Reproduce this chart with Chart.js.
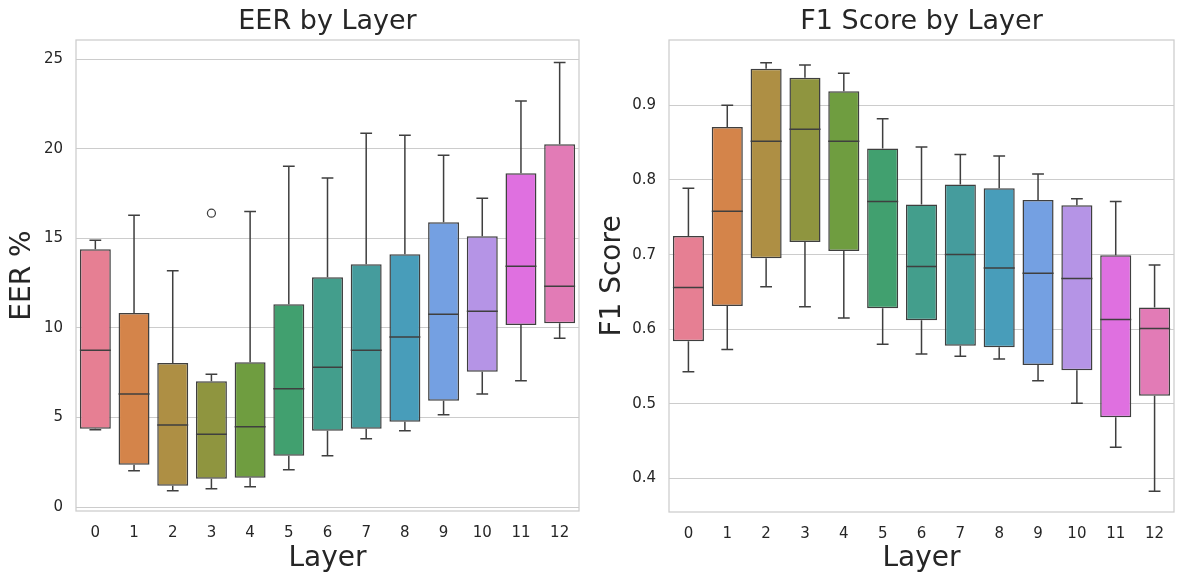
<!DOCTYPE html>
<html>
<head>
<meta charset="utf-8">
<script src="https://cdn.jsdelivr.net/npm/chart.js@4"></script>
<style>
  body { margin: 0; background: #fff; }
  #wrap { position: relative; width: 1183px; height: 584px; }
  #leftBox { position: absolute; left: 0; top: 0; }
  #rightBox { position: absolute; left: 590px; top: 0; }
</style>
</head>
<body>
<div id="wrap">
  <div id="leftBox"><canvas id="eerChart" width="590" height="584"></canvas></div>
  <div id="rightBox"><canvas id="f1Chart" width="593" height="584"></canvas></div>
</div>
<script>
// layers 0..12
var layers = ['0', '1', '2', '3', '4', '5', '6', '7', '8', '9', '10', '11', '12'];

// EER % box stats per layer
var eerLow  = [4.31, 2.03, 0.91, 1.02, 1.13, 2.08, 2.86, 3.81, 4.26, 5.15, 6.32, 7.05, 9.43];
var eerQ1   = [4.37, 2.36, 1.19, 1.58, 1.64, 2.86, 4.26, 4.37, 4.76, 5.93, 7.55, 10.17, 10.27];
var eerMed  = [8.76, 6.31, 4.58, 4.07, 4.48, 6.60, 7.81, 8.76, 9.49, 10.77, 10.94, 13.45, 12.33];
var eerQ3   = [14.40, 10.83, 8.04, 7.03, 8.09, 11.33, 12.83, 13.56, 14.12, 15.90, 15.12, 18.64, 20.26];
var eerHigh = [14.90, 16.29, 13.19, 7.42, 16.50, 19.03, 18.38, 20.87, 20.76, 19.64, 17.24, 22.67, 24.83];
var eerOutliers = [null, null, null, 16.41, null, null, null, null, null, null, null, null, null];
var eerTicks = [0, 5, 10, 15, 20, 25];

// F1 score box stats per layer
var f1Low  = [0.543, 0.573, 0.657, 0.630, 0.615, 0.580, 0.567, 0.564, 0.560, 0.531, 0.501, 0.442, 0.383];
var f1Q1   = [0.584, 0.631, 0.695, 0.717, 0.705, 0.628, 0.612, 0.578, 0.576, 0.552, 0.545, 0.482, 0.511];
var f1Med  = [0.656, 0.758, 0.852, 0.868, 0.852, 0.771, 0.684, 0.700, 0.682, 0.675, 0.668, 0.613, 0.601];
var f1Q3   = [0.725, 0.871, 0.949, 0.937, 0.919, 0.842, 0.767, 0.794, 0.789, 0.773, 0.766, 0.699, 0.629];
var f1High = [0.789, 0.900, 0.957, 0.954, 0.943, 0.882, 0.844, 0.834, 0.832, 0.808, 0.775, 0.771, 0.686];
var f1Ticks = [0.4, 0.5, 0.6, 0.7, 0.8, 0.9];

var palette = ['#e67f93', '#d4844a', '#ae8f44', '#8f953f', '#6f9d40', '#41a06f', '#439e8c',
               '#459c9d', '#489dba', '#74a0e2', '#b594e6', '#df70e0', '#e27bb6'];

var lineColor = '#3f3f3f';
var textColor = '#262626';
var gridColor = '#cccccc';
var fontFamily = '"DejaVu Sans", sans-serif';

Chart.defaults.font.family = fontFamily;
Chart.defaults.color = textColor;
Chart.defaults.animation = false;

// whiskers, caps and medians, drawn through the chart scales
var boxExtras = {
  id: 'boxExtras',
  afterDatasetsDraw: function (chart, args, opts) {
    var ctx = chart.ctx;
    var x = chart.scales.x, y = chart.scales.y;
    var meta = chart.getDatasetMeta(0);
    ctx.save();
    ctx.strokeStyle = lineColor;
    ctx.lineWidth = 1.5;
    for (var i = 0; i < opts.med.length; i++) {
      var cx = x.getPixelForValue(i);
      var w = meta.data[i].width;
      var cap = w * 0.19;
      var yLow = y.getPixelForValue(opts.low[i]);
      var yQ1 = y.getPixelForValue(opts.q1[i]);
      var yQ3 = y.getPixelForValue(opts.q3[i]);
      var yHigh = y.getPixelForValue(opts.high[i]);
      var yMed = y.getPixelForValue(opts.med[i]);
      ctx.beginPath();
      ctx.moveTo(cx, yQ3); ctx.lineTo(cx, yHigh);
      ctx.moveTo(cx - cap, yHigh); ctx.lineTo(cx + cap, yHigh);
      ctx.moveTo(cx, yQ1); ctx.lineTo(cx, yLow);
      ctx.moveTo(cx - cap, yLow); ctx.lineTo(cx + cap, yLow);
      ctx.moveTo(cx - w / 2, yMed); ctx.lineTo(cx + w / 2, yMed);
      ctx.stroke();
    }
    ctx.restore();
  }
};

// light frame around the plot area (all four spines)
var frame = {
  id: 'frame',
  afterDraw: function (chart) {
    var a = chart.chartArea, ctx = chart.ctx;
    ctx.save();
    ctx.strokeStyle = gridColor;
    ctx.lineWidth = 1.25;
    ctx.strokeRect(a.left, a.top, a.right - a.left, a.bottom - a.top);
    ctx.restore();
  }
};

function makeBoxChart(id, cfg) {
  var datasets = [{
    type: 'bar',
    data: layers.map(function (l, i) { return [cfg.q1[i], cfg.q3[i]]; }),
    backgroundColor: palette,
    borderColor: lineColor,
    borderWidth: 1.5,
    borderSkipped: false,
    barPercentage: 0.8,
    categoryPercentage: 1.0,
    order: 2
  }];
  if (cfg.outliers) {
    datasets.push({
      type: 'line',
      data: cfg.outliers,
      showLine: false,
      pointRadius: 4,
      pointBorderWidth: 1.25,
      pointBorderColor: lineColor,
      pointBackgroundColor: 'rgba(0,0,0,0)',
      order: 1
    });
  }
  return new Chart(document.getElementById(id), {
    type: 'bar',
    data: { labels: layers, datasets: datasets },
    plugins: [boxExtras, frame],
    options: {
      responsive: false,
      layout: { padding: { left: 0, top: 0, bottom: 0, right: cfg.padRight } },
      plugins: {
        legend: { display: false },
        tooltip: { enabled: false },
        title: {
          display: true,
          text: cfg.title,
          fullSize: false,
          color: textColor,
          font: { size: 27, weight: 'normal' },
          padding: { top: 6, bottom: 1.6 }
        },
        boxExtras: { low: cfg.low, q1: cfg.q1, med: cfg.med, q3: cfg.q3, high: cfg.high }
      },
      scales: {
        x: {
          grid: { display: false },
          border: { display: false },
          ticks: { font: { size: 15 }, padding: 5, color: textColor },
          title: { display: true, text: 'Layer', font: { size: 28 }, padding: { top: 0, bottom: 8 }, color: textColor },
          afterFit: function (s) { s.height = cfg.xHeight; }
        },
        y: {
          min: cfg.min,
          max: cfg.max,
          grid: { color: gridColor, lineWidth: 1, drawTicks: false },
          border: { display: false },
          ticks: {
            font: { size: 15 }, padding: 13, color: textColor,
            callback: function (v) { return cfg.fmt(v); }
          },
          afterBuildTicks: function (s) { s.ticks = cfg.ticks.map(function (v) { return { value: v }; }); },
          title: { display: true, text: cfg.yLabel, font: { size: 28 }, padding: { top: 6, bottom: 0 }, color: textColor },
          afterFit: function (s) { s.width = cfg.yWidth; }
        }
      }
    }
  });
}

makeBoxChart('eerChart', {
  title: 'EER by Layer', yLabel: 'EER %',
  low: eerLow, q1: eerQ1, med: eerMed, q3: eerQ3, high: eerHigh, outliers: eerOutliers,
  ticks: eerTicks, min: -0.22, max: 26.08,
  fmt: function (v) { return String(v); },
  padRight: 11, yWidth: 76, xHeight: 73
});

makeBoxChart('f1Chart', {
  title: 'F1 Score by Layer', yLabel: 'F1 Score',
  low: f1Low, q1: f1Q1, med: f1Med, q3: f1Q3, high: f1High, outliers: null,
  ticks: f1Ticks, min: 0.3552, max: 0.9875,
  fmt: function (v) { return v.toFixed(1); },
  padRight: 9, yWidth: 79, xHeight: 72
});
</script>
</body>
</html>
